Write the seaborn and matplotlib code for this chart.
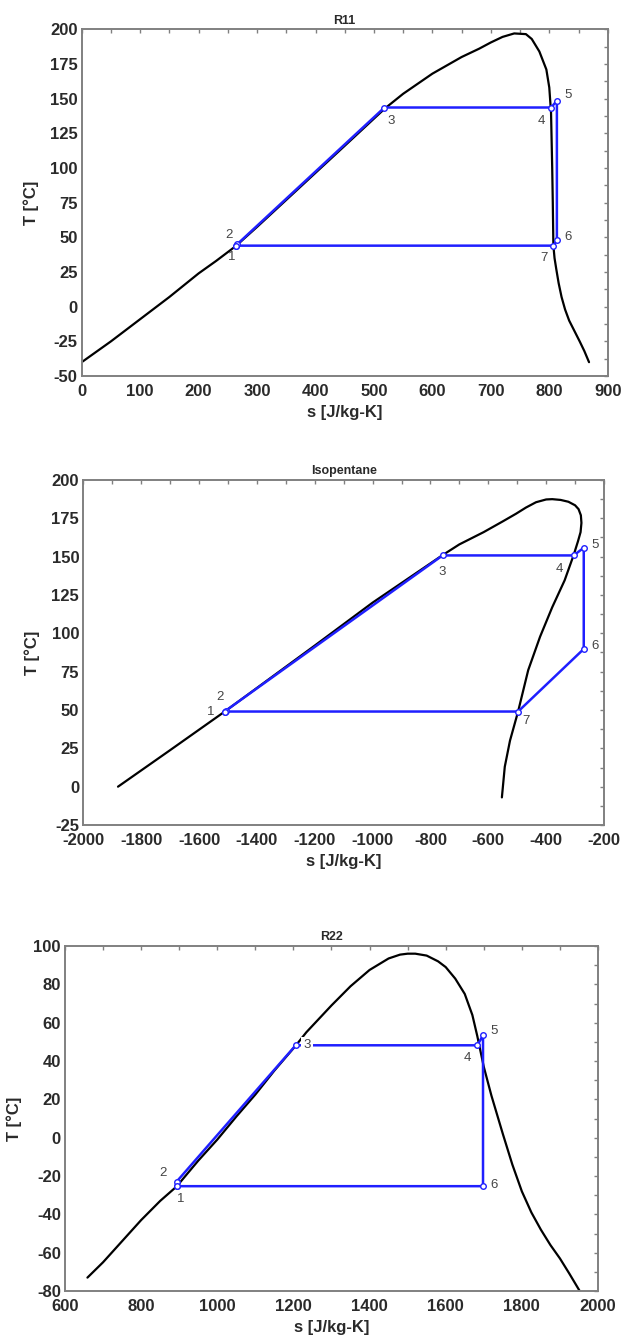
import numpy as np
import pandas as pd
import matplotlib
matplotlib.use("Agg")
import matplotlib.pyplot as plt
from matplotlib.ticker import MultipleLocator
import seaborn as sns

# region Datos R11
r11_sat_s = [0, 50, 100, 150, 200, 230, 263, 300, 350, 400, 450, 519, 550, 600, 650, 680,
             700, 720, 740, 760, 770, 783, 795, 800, 803, 804, 805, 806, 807, 809, 812,
             816, 821, 827, 834, 843, 852, 860, 868]
r11_sat_T = [-40, -25, -9, 7, 24, 33, 43.5, 57.5, 77, 96.5, 116, 143, 153.5, 168, 180, 186,
             190.5, 194.5, 197, 196.5, 193, 184, 171, 158, 140, 120, 100, 75, 44, 35, 27,
             17, 7, -2, -10, -17.5, -25, -32, -40]
r11_cyc_s = [264, 266, 518, 803, 813, 813, 807, 264]
r11_cyc_T = [44, 45, 143.6, 143.6, 148.4, 47.9, 44, 44]
r11_lbl = ["1", "2", "3", "4", "5", "6", "7"]
# endregion

# region Datos Isopentane
iso_sat_s = [-1880, -1703, -1511, -1200, -1000, -758, -700, -616, -550, -504, -470, -435,
             -400, -379, -350, -323, -300, -288, -280, -278, -281, -290, -305, -336, -379,
             -421, -462, -497, -525, -543, -553]
iso_sat_T = [0, 23.4, 49, 92, 120, 151, 158, 166, 173, 178, 182, 185.5,
             187.3, 187.5, 187, 185.8, 183.5, 181, 177, 172, 166, 160, 151, 134.6, 117,
             97.8, 76, 49, 30, 13, -7]
iso_cyc_s = [-1511, -1508, -758, -305, -270, -270, -497, -1511]
iso_cyc_T = [49, 49.5, 150.8, 150.8, 155.8, 89.8, 49, 49]
iso_lbl = ["1", "2", "3", "4", "5", "6", "7"]
# endregion

# region Datos R22
r22_sat_s = [659, 700, 750, 800, 850, 893, 950, 1000, 1050, 1100, 1150, 1206, 1234, 1300,
             1350, 1400, 1450, 1480, 1500, 1520, 1550, 1580, 1600, 1625, 1650, 1670, 1683,
             1700, 1720, 1750, 1775, 1800, 1825, 1850, 1875, 1900, 1925, 1952]
r22_sat_T = [-73, -65, -54, -43, -33, -25.5, -12, -1, 11, 22.5, 35, 48, 55, 69,
             79, 87.5, 93.5, 95.5, 96, 96, 95, 92, 89, 83, 75, 64, 53,
             37, 22, 2, -14, -28, -39, -48, -56, -63, -71, -80]
r22_cyc_s = [893, 893, 1206, 1683, 1698, 1698, 893]
r22_cyc_T = [-25.3, -23, 48.2, 48.2, 53.4, -25.3, -25.3]
r22_lbl = ["1", "2", "3", "4", "5", "6"]
# endregion

sns.set_theme(style="white")
plt.rcParams['font.family'] = ['Liberation Sans', 'DejaVu Sans']
plt.rcParams['axes.unicode_minus'] = False

fig = plt.figure(figsize=(6.32, 13.43), dpi=100)
GRIS = "#808080"
AZUL = "#1f1fff"


def panel(rect, titulo, sat_s, sat_T, cyc_s, cyc_T, lbl, offs, xlim, ylim, xmaj, ymaj, fondo3=False):
    ax = fig.add_axes(rect)
    sns.lineplot(x=sat_s, y=sat_T, sort=False, estimator=None, color="black", lw=1.6, ax=ax)
    sns.lineplot(x=cyc_s, y=cyc_T, sort=False, estimator=None, color=AZUL, lw=1.8,
                 marker="o", markersize=4, markerfacecolor="white",
                 markeredgecolor=AZUL, markeredgewidth=1.0, ax=ax)
    for i, t in enumerate(lbl):
        kw = {}
        if fondo3 and t == "3":
            kw = dict(bbox=dict(facecolor="white", edgecolor="none", pad=1.5))
        ax.annotate(t, (cyc_s[i], cyc_T[i]), xytext=offs[i], textcoords="offset points",
                    ha="center", va="center", fontsize=9.5, color="#444444", zorder=5, **kw)
    ax.set_xlim(*xlim)
    ax.set_ylim(*ylim)
    ax.xaxis.set_major_locator(MultipleLocator(xmaj))
    ax.xaxis.set_minor_locator(MultipleLocator(xmaj / 2))
    ax.yaxis.set_major_locator(MultipleLocator(ymaj))
    ax.yaxis.set_minor_locator(MultipleLocator(ymaj / 2))
    ax.tick_params(which="both", direction="in", top=True, right=True, length=3,
                   width=1.0, color=GRIS, pad=3)
    ax.tick_params(axis="x", which="major", pad=6)
    ax.tick_params(which="major", labelsize=12, labelcolor="#2a2a2a")
    for lab in ax.get_xticklabels() + ax.get_yticklabels():
        lab.set_fontweight("bold")
    for sp in ax.spines.values():
        sp.set_color(GRIS)
        sp.set_linewidth(1.4)
    ax.set_title(titulo, fontsize=9, fontweight="bold", color="#2a2a2a", pad=4)
    ax.set_xlabel("s [J/kg-K]", fontsize=12, fontweight="bold", color="#2a2a2a", labelpad=4)
    ax.set_ylabel("T [°C]", fontsize=12, fontweight="bold", color="#2a2a2a", labelpad=8)
    return ax


panel([0.1293, 0.7200, 0.8323, 0.2582], "R11", r11_sat_s, r11_sat_T, r11_cyc_s, r11_cyc_T,
      r11_lbl, [(-3, -8), (-6, 7), (5, -10), (-7, -10), (8, 4), (8, 2), (-7, -9)],
      (0, 900), (-50, 200), 100, 25)

panel([0.1318, 0.3857, 0.8239, 0.2569], "Isopentane", iso_sat_s, iso_sat_T, iso_cyc_s, iso_cyc_T,
      iso_lbl, [(-10, 0), (-4, 10), (0, -12), (-10, -10), (8, 2), (8, 2), (6, -7)],
      (-2000, -200), (-25, 200), 200, 25)

panel([0.1028, 0.0387, 0.8434, 0.2569], "R22", r22_sat_s, r22_sat_T, r22_cyc_s, r22_cyc_T,
      r22_lbl, [(3, -9), (-10, 6), (8, 0), (-7, -9), (8, 3), (8, 1)],
      (600, 2000), (-80, 100), 200, 20, fondo3=True)

fig.savefig("out.png", dpi=100)
